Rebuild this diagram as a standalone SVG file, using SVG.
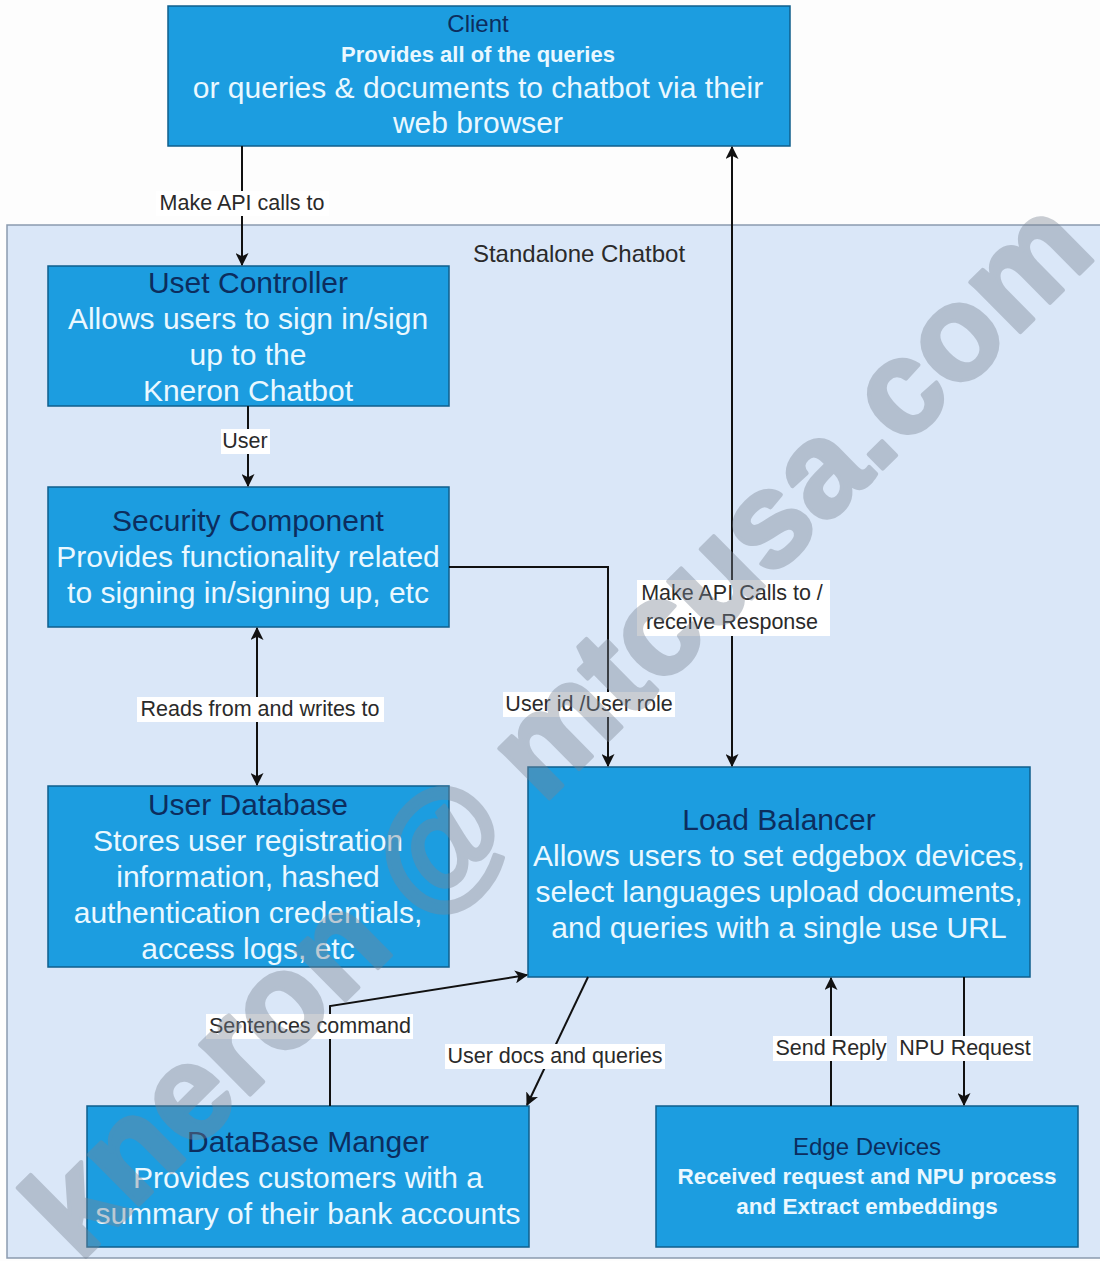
<svg xmlns="http://www.w3.org/2000/svg" width="1100" height="1261" viewBox="0 0 1100 1261">
<defs>
<style>
.box{fill:#1c9de0;stroke:#0f5f8c;stroke-width:1.5}
.t{font-family:"Liberation Sans",Arial,sans-serif;text-anchor:middle}
.ttl{fill:#0c2d5e;font-size:30px}
.bd{fill:#eaf8ff;font-size:30px}
.lbl{font-family:"Liberation Sans",Arial,sans-serif;font-size:21.5px;fill:#2a2a2a;text-anchor:middle}
.lbg{fill:#ffffff}
.edge{fill:none;stroke:#111;stroke-width:2}
.wm{font-family:"Liberation Sans",Arial,sans-serif;font-weight:bold;font-size:134px;fill:#7a8594;stroke:#7a8594;stroke-width:4;stroke-linejoin:round;text-anchor:middle}
</style>
<marker id="ah" viewBox="0 0 12 12" refX="11" refY="6" markerWidth="13" markerHeight="13" markerUnits="userSpaceOnUse" orient="auto-start-reverse">
<path d="M0,0 L12,6 L0,12 L3,6 Z" fill="#111"/>
</marker>
</defs>
<rect x="0" y="0" width="1100" height="1261" fill="#fdfdfd"/>
<g id="container">
<rect x="7" y="225" width="1100" height="1033" fill="#dae7f8" stroke="#8a9aae" stroke-width="1.5"/>
<text class="lbl" x="579" y="262" style="font-size:24px">Standalone Chatbot</text>
</g>
<g id="client">
<rect class="box" x="168" y="6" width="622" height="140"/>
<text class="t ttl" x="478" y="32" style="font-size:24px">Client</text>
<text class="t bd" x="478" y="62" style="font-size:22px;font-weight:bold">Provides all of the queries</text>
<text class="t bd" x="478" y="98">or queries &amp; documents to chatbot via their</text>
<text class="t bd" x="478" y="133">web browser</text>
</g>
<g id="user-controller">
<rect class="box" x="48" y="266" width="401" height="140"/>
<text class="t ttl" x="248" y="293">Uset Controller</text>
<text class="t bd" x="248" y="329">Allows users to sign in/sign</text>
<text class="t bd" x="248" y="365">up to the</text>
<text class="t bd" x="248" y="401">Kneron Chatbot</text>
</g>
<g id="security-component">
<rect class="box" x="48" y="487" width="401" height="140"/>
<text class="t ttl" x="248" y="531">Security Component</text>
<text class="t bd" x="248" y="567">Provides functionality related</text>
<text class="t bd" x="248" y="603">to signing in/signing up, etc</text>
</g>
<g id="user-database">
<rect class="box" x="48" y="786" width="401" height="181"/>
<text class="t ttl" x="248" y="815">User Database</text>
<text class="t bd" x="248" y="851">Stores user registration</text>
<text class="t bd" x="248" y="887">information, hashed</text>
<text class="t bd" x="248" y="923">authentication credentials,</text>
<text class="t bd" x="248" y="959">access logs, etc</text>
</g>
<g id="load-balancer">
<rect class="box" x="528" y="767" width="502" height="210"/>
<text class="t ttl" x="779" y="830">Load Balancer</text>
<text class="t bd" x="779" y="866">Allows users to set edgebox devices,</text>
<text class="t bd" x="779" y="902">select languages upload documents,</text>
<text class="t bd" x="779" y="938">and queries with a single use URL</text>
</g>
<g id="database-manager">
<rect class="box" x="87" y="1106" width="442" height="141"/>
<text class="t ttl" x="308" y="1152">DataBase Manger</text>
<text class="t bd" x="308" y="1188">Provides customers with a</text>
<text class="t bd" x="308" y="1224">summary of their bank accounts</text>
</g>
<g id="edge-devices">
<rect class="box" x="656" y="1106" width="422" height="141"/>
<text class="t ttl" x="867" y="1155" style="font-size:24px">Edge Devices</text>
<text class="t bd" x="867" y="1184" style="font-size:22.5px;font-weight:bold">Received request and NPU process</text>
<text class="t bd" x="867" y="1214" style="font-size:22.5px;font-weight:bold">and Extract embeddings</text>
</g>
<g id="connectors">
<path class="edge" d="M242,146 L242,265" marker-end="url(#ah)"/>
<path class="edge" d="M732,147 L732,766" marker-start="url(#ah)" marker-end="url(#ah)"/>
<path class="edge" d="M248,406 L248,486" marker-end="url(#ah)"/>
<path class="edge" d="M257,628 L257,785" marker-start="url(#ah)" marker-end="url(#ah)"/>
<path class="edge" d="M449,567 L608,567 L608,766" marker-end="url(#ah)"/>
<path class="edge" d="M330,1106 L330,1006 L527,975" marker-end="url(#ah)"/>
<path class="edge" d="M588,977 L527,1105" marker-end="url(#ah)"/>
<path class="edge" d="M831,1106 L831,978" marker-end="url(#ah)"/>
<path class="edge" d="M964,977 L964,1105" marker-end="url(#ah)"/>
<rect class="lbg" x="156" y="191" width="173" height="25"/>
<text class="lbl" x="242" y="210">Make API calls to</text>
<rect class="lbg" x="221" y="429" width="49" height="25"/>
<text class="lbl" x="245" y="448">User</text>
<rect class="lbg" x="637" y="580" width="193" height="56"/>
<text class="lbl" x="732" y="600">Make API Calls to /</text>
<text class="lbl" x="732" y="629">receive Response</text>
<rect class="lbg" x="137" y="697" width="247" height="25"/>
<text class="lbl" x="260" y="716">Reads from and writes to</text>
<rect class="lbg" x="503" y="692" width="172" height="25"/>
<text class="lbl" x="589" y="711">User id /User role</text>
<rect class="lbg" x="206" y="1014" width="207" height="25"/>
<text class="lbl" x="310" y="1033">Sentences command</text>
<rect class="lbg" x="445" y="1044" width="220" height="25"/>
<text class="lbl" x="555" y="1063">User docs and queries</text>
<rect class="lbg" x="773" y="1036" width="114" height="25"/>
<text class="lbl" x="831" y="1055">Send Reply</text>
<rect class="lbg" x="897" y="1036" width="136" height="25"/>
<text class="lbl" x="965" y="1055">NPU Request</text>
</g>
<g id="watermark" opacity="0.4" transform="rotate(-44.7 555 725)">
<text class="wm" x="555" y="725" dy="0.36em">kneron @ mtcusa.com</text>
</g>
</svg>
